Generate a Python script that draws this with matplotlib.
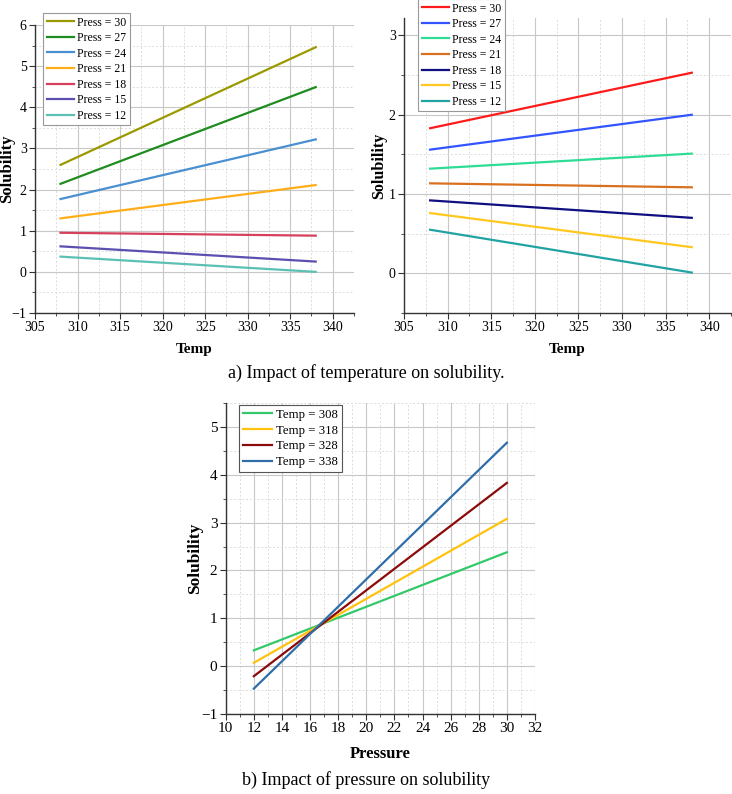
import matplotlib
matplotlib.use("Agg")
import matplotlib.pyplot as plt
from matplotlib.ticker import MultipleLocator

plt.rcParams['font.family'] = ['Liberation Serif', 'DejaVu Serif']
plt.rcParams['axes.unicode_minus'] = True

# ---- data ----
temps = [308, 338]
press_labels = ["Press = 30", "Press = 27", "Press = 24", "Press = 21",
                "Press = 18", "Press = 15", "Press = 12"]
left_start = [2.60, 2.14, 1.77, 1.30, 0.95, 0.62, 0.37]
left_end = [5.46, 4.49, 3.22, 2.11, 0.88, 0.25, 0.00]
left_colors = ["#9a9a00", "#1f8c1f", "#4a8fd0", "#ffae1a", "#d6405c", "#5b4fb0", "#5cc0b4"]

right_start = [1.83, 1.56, 1.32, 1.135, 0.92, 0.76, 0.55]
right_end = [2.53, 2.00, 1.51, 1.085, 0.70, 0.33, 0.01]
right_colors = ["#ff1a1a", "#3355ff", "#2edc96", "#d9701f", "#0f0f80", "#ffc81e", "#22a3a3"]

press = [12, 30]
temp_labels = ["Temp = 308", "Temp = 318", "Temp = 328", "Temp = 338"]
bot_start = [0.33, 0.07, -0.21, -0.47]
bot_end = [2.38, 3.08, 3.83, 4.67]
bot_colors = ["#35c86a", "#ffc20e", "#8b0a0a", "#2f6ea8"]

fig = plt.figure(figsize=(7.32, 7.94), dpi=100)
W, H = 732.0, 794.0

def mkax(l, t, r, b):
    return fig.add_axes([l / W, 1 - b / H, (r - l) / W, (b - t) / H])

def style(ax, xmaj, xmin, ymaj, ymin, lsize):
    ax.xaxis.set_major_locator(MultipleLocator(xmaj))
    ax.xaxis.set_minor_locator(MultipleLocator(xmin))
    ax.yaxis.set_major_locator(MultipleLocator(ymaj))
    ax.yaxis.set_minor_locator(MultipleLocator(ymin))
    ax.grid(which='major', color='#c8c8c8', linewidth=0.8, linestyle='-')
    ax.grid(which='minor', color='#dcdcdc', linewidth=0.7, linestyle=(0, (2, 2)))
    ax.set_axisbelow(True)
    for s in ['top', 'right']:
        ax.spines[s].set_visible(False)
    for s in ['left', 'bottom']:
        ax.spines[s].set_color('#333333')
        ax.spines[s].set_linewidth(1.0)
    ax.tick_params(which='major', direction='out', length=4, width=0.8, labelsize=lsize,
                   color='#333333', pad=2)
    ax.tick_params(which='minor', direction='out', length=2, width=0.6, color='#333333')

def mkleg(ax, x, y, fs, edge):
    leg = ax.legend(loc='upper left', bbox_to_anchor=(x / W, 1 - y / H), bbox_transform=fig.transFigure,
                    fontsize=fs, frameon=True, fancybox=False, borderpad=0.3, labelspacing=0.3,
                    handlelength=2.3, handletextpad=0.3, borderaxespad=0, framealpha=1)
    leg.get_frame().set_edgecolor(edge)
    leg.get_frame().set_linewidth(0.8)
    return leg

# ---- top left ----
ax1 = mkax(35, 25, 354, 313)
for s, e, c, lab in zip(left_start, left_end, left_colors, press_labels):
    ax1.plot(temps, [s, e], color=c, lw=1.6, label=lab)
ax1.set_xlim(305, 342.5)
ax1.set_ylim(-1, 6)
style(ax1, 5, 2.5, 1, 0.5, 10)
ax1.set_xlabel("Temp", fontsize=11, fontweight='bold', labelpad=6)
ax1.set_ylabel("Solubility", fontsize=12, fontweight='bold')
ax1.yaxis.set_label_coords((15 - 35) / 319.0, 0.5)
mkleg(ax1, 43, 13, 8.5, '#999999')

# ---- top right ----
ax2 = mkax(404, 18, 731, 313)
for s, e, c, lab in zip(right_start, right_end, right_colors, press_labels):
    ax2.plot(temps, [s, e], color=c, lw=1.6, label=lab)
ax2.set_xlim(305, 342.5)
ax2.set_ylim(-0.5, 3.22)
style(ax2, 5, 2.5, 1, 0.5, 10)
ax2.set_xlabel("Temp", fontsize=11, fontweight='bold', labelpad=6)
ax2.set_ylabel("Solubility", fontsize=11.5, fontweight='bold')
ax2.yaxis.set_label_coords((387 - 404) / 327.0, 0.5)
mkleg(ax2, 418, -1, 8.5, '#999999')

# ---- bottom ----
ax3 = mkax(225.7, 403, 535, 714)
for s, e, c, lab in zip(bot_start, bot_end, bot_colors, temp_labels):
    ax3.plot(press, [s, e], color=c, lw=1.6, label=lab)
ax3.set_xlim(10, 32)
ax3.set_ylim(-1, 5.5)
style(ax3, 2, 1, 1, 0.5, 11)
ax3.set_xlabel("Pressure", fontsize=12, fontweight='bold', labelpad=8)
ax3.set_ylabel("Solubility", fontsize=12.5, fontweight='bold')
ax3.yaxis.set_label_coords((203 - 225.7) / 309.3, 0.5)
mkleg(ax3, 239, 405, 9.2, '#555555')

fig.text(0.5, 1 - 373 / H, "a) Impact of temperature on solubility.", ha='center', va='center', fontsize=13)
fig.text(0.5, 1 - 780 / H, "b) Impact of pressure on solubility", ha='center', va='center', fontsize=13)

fig.savefig("out.png", dpi=100)
